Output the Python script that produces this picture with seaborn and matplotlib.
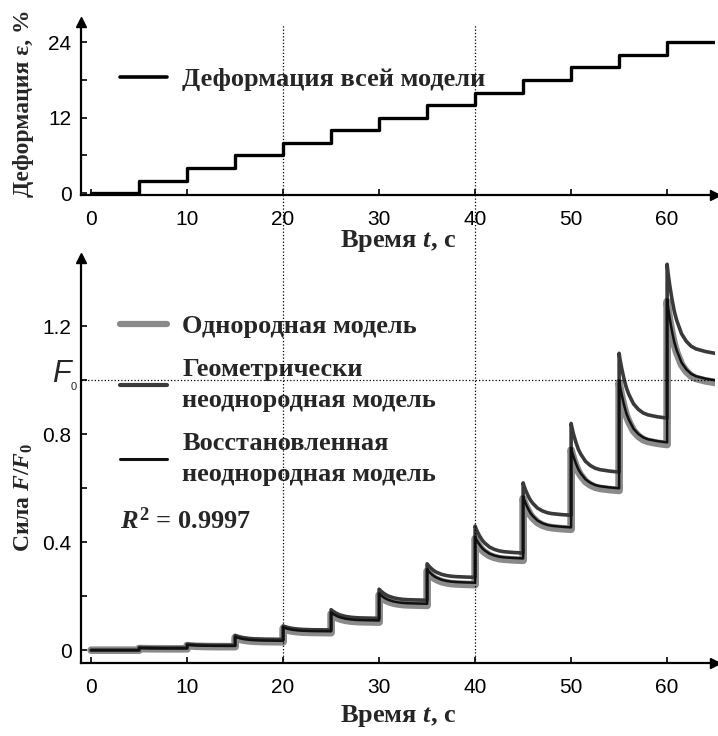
import numpy as np
import pandas as pd
import matplotlib
matplotlib.use('Agg')
import matplotlib.pyplot as plt
import seaborn as sns
from matplotlib.lines import Line2D
from matplotlib.transforms import blended_transform_factory

#-------------------------------------------------------------------------------------------------
# data
#-------------------------------------------------------------------------------------------------
step_times = [0, 5, 10, 15, 20, 25, 30, 35, 40, 45, 50, 55, 60, 65]
strain_pct = [0, 2, 4, 6, 8, 10, 12, 14, 16, 18, 20, 22, 24, 24]

# one entry per 5 s loading step: force right after the jump and at the end of the step
geom_peak    = [0, 0.010, 0.022, 0.055, 0.090, 0.150, 0.226, 0.320, 0.460, 0.620, 0.840, 1.100, 1.430]
geom_plateau = [0, 0.008, 0.018, 0.040, 0.075, 0.118, 0.185, 0.270, 0.360, 0.500, 0.660, 0.860, 1.100]
rest_peak    = [0, 0.008, 0.020, 0.050, 0.085, 0.140, 0.210, 0.300, 0.420, 0.570, 0.750, 1.000, 1.300]
rest_plateau = [0, 0.007, 0.016, 0.035, 0.070, 0.110, 0.172, 0.250, 0.340, 0.455, 0.600, 0.770, 1.000]
homo_peak    = [0, 0.006, 0.017, 0.046, 0.080, 0.134, 0.204, 0.293, 0.413, 0.562, 0.742, 0.992, 1.292]
homo_plateau = [0, 0.005, 0.013, 0.031, 0.065, 0.104, 0.166, 0.243, 0.333, 0.448, 0.592, 0.762, 0.992]

# relaxation shape inside one step (share of the jump still left), read from the last step
relax_t    = [0, 0.1, 0.25, 0.5, 0.75, 1.0, 1.5, 2.0, 2.5, 3.0, 4.0, 5.0]
relax_frac = [1, 0.90, 0.78, 0.61, 0.47, 0.37, 0.22, 0.135, 0.08, 0.05, 0.02, 0.0]

r2_text = '$R^2$ = 0.9997'


def build_curve(peaks, plateaus):
    tt, ff = [], []
    for k in range(len(peaks)):
        for dt, fr in zip(relax_t, relax_frac):
            tt.append(5 * k + dt)
            ff.append(plateaus[k] + (peaks[k] - plateaus[k]) * fr)
    return pd.DataFrame({'t': tt, 'F': ff})


df_geom = build_curve(geom_peak, geom_plateau)
df_rest = build_curve(rest_peak, rest_plateau)
df_homo = build_curve(homo_peak, homo_plateau)
df_strain = pd.DataFrame({'t': step_times, 'eps': strain_pct})

#-------------------------------------------------------------------------------------------------
# style
#-------------------------------------------------------------------------------------------------
sns.set_style('ticks')
plt.rcParams['font.family'] = ['Liberation Sans', 'DejaVu Sans']
plt.rcParams['mathtext.fontset'] = 'custom'
plt.rcParams['mathtext.rm'] = 'Liberation Serif:bold'
plt.rcParams['mathtext.it'] = 'Liberation Serif:italic:bold'
plt.rcParams['mathtext.bf'] = 'Liberation Serif:bold'

ylab = dict(family='Liberation Serif', weight='bold', fontsize=17)
xlab = dict(family='Liberation Serif', weight='bold', fontsize=19)
leg_font = {'family': 'Liberation Serif', 'weight': 'bold', 'size': 19}

fig = plt.figure(figsize=(7.18, 7.36), dpi=100)
ax1 = fig.add_axes([0.113, 0.735, 0.883, 0.235])
ax2 = fig.add_axes([0.113, 0.099, 0.883, 0.550])


def arrow_axes(ax):
    for s in ['top', 'right']:
        ax.spines[s].set_visible(False)
    for s in ['left', 'bottom']:
        ax.spines[s].set_linewidth(1.6)
        ax.spines[s].set_color('black')
    ax.plot(1, 0, '>k', ms=7, transform=ax.transAxes, clip_on=False)
    ax.plot(0, 1, '^k', ms=7, transform=ax.transAxes, clip_on=False)
    ax.tick_params(which='both', direction='in', length=4, width=1.2, labelsize=15, colors='black')
    ax.tick_params(axis='y', pad=7)
    ax.tick_params(axis='x', pad=11)
    ax.set_xticks([0, 10, 20, 30, 40, 50, 60])
    ax.set_xlim(-1.04, 65)


#-------------------------------------------------------------------------------------------------
# top panel: strain steps
#-------------------------------------------------------------------------------------------------
sns.lineplot(data=df_strain, x='t', y='eps', drawstyle='steps-post', color='black', lw=2.4,
             estimator=None, sort=False, ax=ax1, label='Деформация всей модели')
arrow_axes(ax1)
ax1.set_ylim(-0.3, 27.2)
ax1.set_yticks([0, 12, 24])
ax1.set_yticks([6, 18], minor=True)
ax1.set_xlabel('Время $t$, с', labelpad=-1, **xlab)
ax1.set_ylabel('Деформация ε, %', **ylab)
ax1.yaxis.set_label_coords(-0.074, 0.53)
leg1 = ax1.legend(loc='upper left', bbox_to_anchor=(0.0615, 0.735), frameon=False, prop=leg_font,
                  handlelength=1.78, handletextpad=0.57, borderpad=0, borderaxespad=0)
leg1.get_lines()[0].set_linewidth(2.6)

#-------------------------------------------------------------------------------------------------
# bottom panel: force relaxation
#-------------------------------------------------------------------------------------------------
sns.lineplot(data=df_homo, x='t', y='F', color='#8a8a8a', lw=5.5, estimator=None, sort=False,
             ax=ax2, label='Однородная модель')
sns.lineplot(data=df_geom, x='t', y='F', color='#3a3a3a', lw=2.6, estimator=None, sort=False,
             ax=ax2, label='Геометрически\nнеоднородная модель')
sns.lineplot(data=df_rest, x='t', y='F', color='#111111', lw=1.8, estimator=None, sort=False,
             ax=ax2, label='Восстановленная\nнеоднородная модель')
arrow_axes(ax2)
ax2.set_ylim(-0.048, 1.452)
ax2.axhline(1.0, color='black', ls=':', lw=0.9)
ax2.set_yticks([0, 0.4, 0.8, 1.0, 1.2])
ax2.set_yticklabels(['0', '0.4', '0.8', '', '1.2'])
ax2.set_yticks([0.2, 0.6], minor=True)
# F0 mark on the y axis
ytr = blended_transform_factory(ax2.transAxes, ax2.transData)
ax2.text(-0.016, 1.022, 'F', transform=ytr, ha='right', va='center', fontsize=22, fontstyle='italic')
ax2.text(-0.017, 0.976, '0', transform=ytr, ha='left', va='center', fontsize=8)
ax2.set_xlabel('Время $t$, с', labelpad=4, **xlab)
ax2.set_ylabel('Сила $F/F_0$', **ylab)
ax2.yaxis.set_label_coords(-0.0725, 0.41)
leg = ax2.legend(loc='upper left', bbox_to_anchor=(0.0615, 0.86), frameon=False, prop=leg_font,
                 handlelength=1.78, handletextpad=0.57, borderpad=0, borderaxespad=0, labelspacing=0.75)
for txt in leg.get_texts():
    txt.set_linespacing(1.45)
for h, w in zip(leg.get_lines(), [4.5, 3.0, 2.2]):
    h.set_linewidth(w)
ax2.text(0.0615, 0.353, r2_text, transform=ax2.transAxes, ha='left', va='center', **xlab)

# dotted guide lines through both panels
tr = blended_transform_factory(ax2.transData, fig.transFigure)
for xv in [20, 40]:
    fig.add_artist(Line2D([xv, xv], [0.099, 0.966], transform=tr, color='black', ls=':', lw=0.9))

fig.savefig('out.png', dpi=100)
